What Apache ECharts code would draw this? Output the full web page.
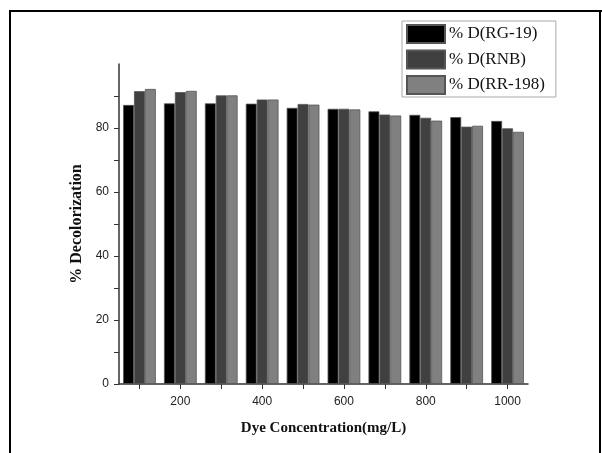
<!DOCTYPE html>
<html>
<head>
<meta charset="utf-8">
<script src="https://cdn.jsdelivr.net/npm/echarts@6/dist/echarts.min.js"></script>
<style>
html,body{margin:0;padding:0;background:#fff;}
#chart{width:602px;height:453px;}
</style>
</head>
<body>
<div id="chart"></div>
<script>
const categories = ['100','200','300','400','500','600','700','800','900','1000'];
const rg19  = [87.2, 87.7, 87.7, 87.6, 86.3, 86.0, 85.2, 84.1, 83.4, 82.2];
const rnb   = [91.5, 91.2, 90.2, 88.9, 87.5, 86.0, 84.2, 83.2, 80.4, 79.9];
const rr198 = [92.2, 91.6, 90.2, 88.9, 87.3, 85.8, 83.9, 82.3, 80.7, 78.8];
const yTicks = [0, 20, 40, 60, 80];
const seriesNames = ['% D(RG-19)', '% D(RNB)', '% D(RR-198)'];

const chart = echarts.init(document.getElementById('chart'), null, {renderer: 'canvas'});
const barStyle = (c) => ({color: c, borderColor: '#555', borderWidth: 0.8});
chart.setOption({
  animation: false,
  backgroundColor: '#fff',
  grid: {left: 119, right: 74, top: 64, bottom: 69, containLabel: false},
  legend: {
    orient: 'vertical',
    left: 402, top: 21,
    padding: [3, 11, 2, 4],
    itemWidth: 38, itemHeight: 18, itemGap: 5.5,
    borderColor: '#aaa', borderWidth: 1,
    icon: 'rect',
    textStyle: {fontFamily: 'Liberation Serif', fontSize: 17, color: '#111', padding: [0,0,0,-1]},
    data: seriesNames
  },
  xAxis: {
    type: 'category',
    data: categories,
    boundaryGap: true,
    name: 'Dye Concentration(mg/L)',
    nameLocation: 'middle',
    nameGap: 37,
    nameTextStyle: {fontFamily: 'Liberation Serif', fontWeight: 'bold', fontSize: 15, color: '#111'},
    axisLine: {lineStyle: {color: '#333', width: 1.5}},
    axisTick: {show: true, alignWithLabel: true, interval: 0, length: 5, lineStyle: {color: '#333'}},
    axisLabel: {
      interval: function (i) { return i % 2 === 1; },
      margin: 12,
      fontFamily: 'Liberation Sans', fontSize: 12, color: '#222'
    },
    splitLine: {show: false}
  },
  yAxis: {
    type: 'value',
    min: 0, max: 100, interval: 20,
    name: '% Decolorization',
    nameLocation: 'middle',
    nameGap: 32,
    nameRotate: 90,
    nameTextStyle: {fontFamily: 'Liberation Serif', fontWeight: 'bold', fontSize: 16, color: '#111'},
    axisLine: {show: true, lineStyle: {color: '#333', width: 1.5}},
    axisTick: {show: true, length: 5, customValues: yTicks, lineStyle: {color: '#333'}},
    minorTick: {show: true, splitNumber: 2, length: 5, lineStyle: {color: '#333'}},
    axisLabel: {customValues: yTicks, margin: 10, fontFamily: 'Liberation Sans', fontSize: 12, color: '#222'},
    splitLine: {show: false}
  },
  series: [
    {name: seriesNames[0], type: 'bar', data: rg19, barGap: '0%', barCategoryGap: '20%', itemStyle: barStyle('#000000')},
    {name: seriesNames[1], type: 'bar', data: rnb, barGap: '0%', barCategoryGap: '20%', itemStyle: barStyle('#404040')},
    {name: seriesNames[2], type: 'bar', data: rr198, barGap: '0%', barCategoryGap: '20%', itemStyle: barStyle('#808080')}
  ],
  graphic: [
    {type: 'line', shape: {x1: 9, y1: 11, x2: 602, y2: 11}, style: {stroke: '#000', lineWidth: 2}},
    {type: 'line', shape: {x1: 10, y1: 10, x2: 10, y2: 453}, style: {stroke: '#000', lineWidth: 2}},
    {type: 'line', shape: {x1: 600, y1: 10, x2: 600, y2: 453}, style: {stroke: '#000', lineWidth: 2}}
  ]
});
</script>
</body>
</html>
